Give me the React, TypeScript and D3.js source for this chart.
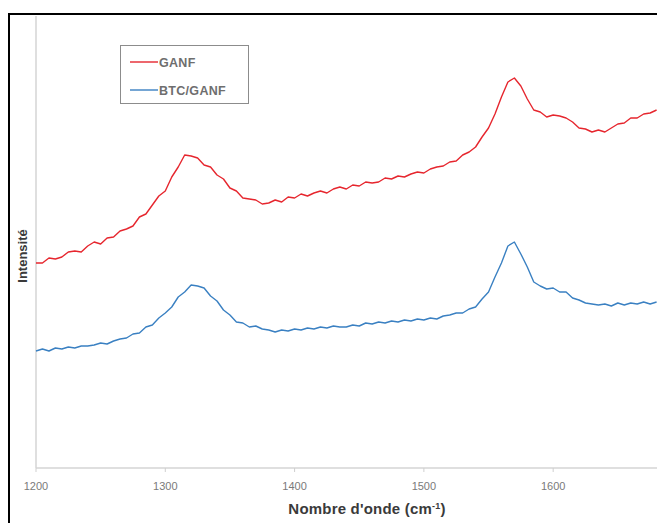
import React from "react";
import * as d3 from "d3";

const wavenumbers: number[] = d3.range(1200, 1681, 5);

const ganf: number[] = [
  205, 205, 210, 209, 211, 216, 217, 216, 222, 226, 224, 230, 231, 237, 239, 242, 251, 254, 263, 272,
  277, 291, 301, 313, 312, 310, 303, 301, 293, 289, 280, 277, 270, 269, 268, 264, 265, 268, 266, 271,
  270, 274, 272, 275, 277, 275, 279, 281, 279, 283, 282, 286, 285, 286, 290, 289, 292, 291, 294, 296,
  295, 299, 301, 302, 306, 307, 313, 316, 321, 331, 340, 354, 371, 386, 390, 382, 369, 358, 356, 351,
  353, 352, 350, 346, 340, 339, 336, 338, 336, 340, 344, 345, 350, 350, 354, 355, 358,
];

const btcGanf: number[] = [
  117, 119, 117, 120, 119, 121, 120, 122, 122, 123, 125, 124, 127, 129, 130, 134, 135, 141, 143, 150,
  155, 161, 171, 176, 183, 182, 180, 172, 167, 158, 153, 146, 145, 141, 142, 139, 138, 136, 138, 137,
  139, 138, 140, 139, 141, 140, 142, 141, 141, 143, 142, 145, 144, 146, 145, 147, 146, 148, 147, 149,
  148, 150, 149, 152, 153, 155, 155, 159, 161, 169, 176, 191, 205, 222, 226, 214, 201, 186, 182, 179,
  180, 176, 176, 170, 168, 165, 164, 163, 164, 162, 165, 163, 165, 164, 166, 164, 166,
];

const xTicks: number[] = [1200, 1300, 1400, 1500, 1600];
const seriesNames: string[] = ["GANF", "BTC/GANF"];
const seriesColors: string[] = ["#e6262e", "#3a80c2"];

export default function App() {
  const W = 657;
  const H = 523;
  const x = d3.scaleLinear().domain([1200, 1680]).range([36, 656.6]);
  const y = d3.scaleLinear().domain([0, 450]).range([468, 18]);
  const line = d3
    .line<[number, number]>()
    .x((d) => x(d[0]))
    .y((d) => y(d[1]));
  const series = [ganf, btcGanf];
  const font = "'Liberation Sans', Arial, sans-serif";

  return (
    <svg
      width={W}
      height={H}
      style={{ position: "absolute", left: 0, top: 0, background: "#fff" }}
    >
      <rect x={9} y={14} width={W} height={H} fill="#fff" stroke="#000" strokeWidth={2} />
      {/* axes */}
      <line x1={36} x2={36} y1={16} y2={468} stroke="#d4d4d4" strokeWidth={1.5} />
      <line x1={36} x2={W} y1={468} y2={468} stroke="#d4d4d4" strokeWidth={1.5} />
      {xTicks.map((t) => (
        <g key={t}>
          <line x1={x(t)} x2={x(t)} y1={468} y2={472} stroke="#cfcfcf" strokeWidth={1} />
          <text
            x={x(t)}
            y={490}
            textAnchor="middle"
            fontFamily={font}
            fontSize={11}
            fill="#7a7a7a"
          >
            {t}
          </text>
        </g>
      ))}
      {/* series */}
      {series.map((s, i) => (
        <path
          key={i}
          d={line(s.map((v, j) => [wavenumbers[j], v] as [number, number])) || ""}
          fill="none"
          stroke={seriesColors[i]}
          strokeWidth={1.4}
          strokeLinejoin="round"
        />
      ))}
      {/* titles */}
      <text
        x={367}
        y={514}
        textAnchor="middle"
        fontFamily={font}
        fontWeight="bold"
        fontSize={15}
        letterSpacing={0.2}
        fill="#3a3a3a"
      >
        Nombre d'onde (cm
        <tspan dy={-5} fontSize={9}>
          -1
        </tspan>
        <tspan dy={5}>)</tspan>
      </text>
      <text
        transform="translate(26.5,256) rotate(-90)"
        textAnchor="middle"
        fontFamily={font}
        fontWeight="bold"
        fontSize={13}
        fill="#3a3a3a"
      >
        Intensité
      </text>
      {/* legend */}
      <rect x={120.5} y={45.5} width={128} height={58} fill="#fff" stroke="#8c8c8c" strokeWidth={1} />
      {seriesNames.map((n, i) => (
        <g key={n}>
          <line
            x1={130}
            x2={158}
            y1={62 + i * 28}
            y2={62 + i * 28}
            stroke={seriesColors[i]}
            strokeWidth={1.4}
          />
          <text
            x={159}
            y={66.5 + i * 28}
            fontFamily={font}
            fontSize={12.5}
            fontWeight="bold"
            letterSpacing={0.3}
            fill="#6e6e6e"
          >
            {n}
          </text>
        </g>
      ))}
    </svg>
  );
}
